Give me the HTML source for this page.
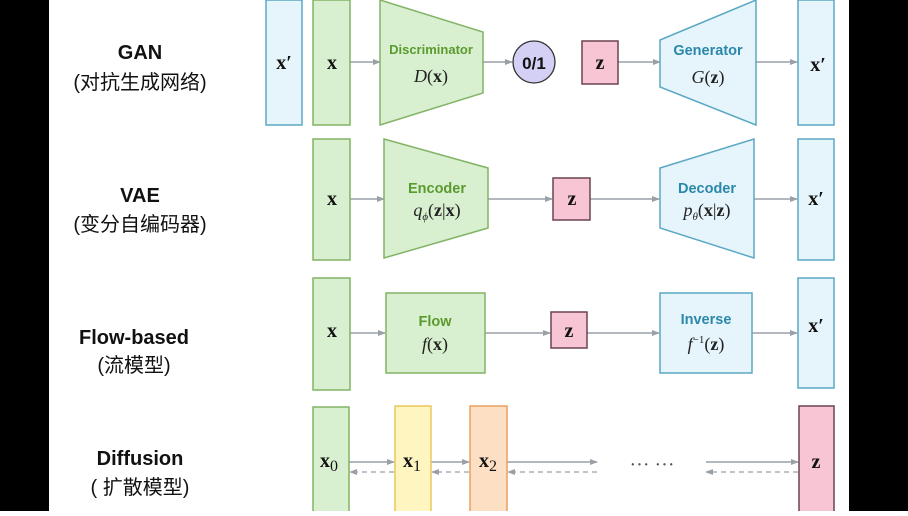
<!DOCTYPE html>
<html><head><meta charset="utf-8"><style>
body{margin:0;width:908px;height:511px;overflow:hidden;background:#fff}
</style></head><body>
<svg width="908" height="511" viewBox="0 0 908 511" xmlns="http://www.w3.org/2000/svg" font-family="Liberation Serif, serif">
<defs>
<marker id="a" markerWidth="8" markerHeight="8" refX="7" refY="4" orient="auto" markerUnits="userSpaceOnUse"><path d="M0,1 L8,4 L0,7z" fill="#9aa0a8"/></marker>
</defs>
<rect x="0" y="0" width="49" height="511" fill="#000"/>
<rect x="849" y="0" width="59" height="511" fill="#000"/>
<g font-family="Liberation Sans, Noto Sans CJK SC, sans-serif" font-size="20" text-anchor="middle" fill="#111">
<text x="140" y="59" font-weight="bold">GAN</text>
<text x="140" y="89">(对抗生成网络)</text>
<text x="140" y="202" font-weight="bold">VAE</text>
<text x="140" y="231">(变分自编码器)</text>
<text x="134" y="344" font-weight="bold">Flow-based</text>
<text x="134" y="372">(流模型)</text>
<text x="140" y="465" font-weight="bold">Diffusion</text>
<text x="140" y="494">( 扩散模型)</text>
</g>
<g stroke="#9aa0a8" stroke-width="1.5" fill="none" marker-end="url(#a)">
<line x1="350" y1="62" x2="380" y2="62"/>
<line x1="483" y1="62" x2="512" y2="62"/>
<line x1="618" y1="62" x2="660" y2="62"/>
<line x1="756" y1="62" x2="797" y2="62"/>
<line x1="350" y1="199" x2="384" y2="199"/>
<line x1="488" y1="199" x2="552" y2="199"/>
<line x1="590" y1="199" x2="659" y2="199"/>
<line x1="754" y1="199" x2="797" y2="199"/>
<line x1="350" y1="333" x2="385" y2="333"/>
<line x1="485" y1="333" x2="550" y2="333"/>
<line x1="587" y1="333" x2="659" y2="333"/>
<line x1="752" y1="333" x2="797" y2="333"/>
<line x1="349" y1="462" x2="394" y2="462"/>
<line x1="431" y1="462" x2="469" y2="462"/>
<line x1="507" y1="462" x2="597" y2="462"/>
<line x1="706" y1="462" x2="798" y2="462"/>
</g>
<g stroke="#9aa0a8" stroke-width="1.3" fill="none" stroke-dasharray="5,4" marker-end="url(#a)">
<line x1="394" y1="472" x2="350" y2="472"/>
<line x1="469" y1="472" x2="432" y2="472"/>
<line x1="597" y1="472" x2="508" y2="472"/>
<line x1="798" y1="472" x2="706" y2="472"/>
</g>
<text x="652" y="471" font-size="20" fill="#555" text-anchor="middle">··· ···</text>
<!-- GAN -->
<rect x="266" y="0" width="36" height="125" fill="#e6f5fb" stroke="#5ba8c4" stroke-width="1.5"/>
<rect x="313" y="0" width="37" height="125" fill="#d9f0d0" stroke="#82b366" stroke-width="1.5"/>
<polygon points="380,0 483,32 483,93 380,125" fill="#d9f0d0" stroke="#82b366" stroke-width="1.5"/>
<circle cx="534" cy="62" r="21" fill="#d4d0f5" stroke="#333" stroke-width="1.3"/>
<rect x="582" y="41" width="36" height="43" fill="#f8c5d5" stroke="#6a4450" stroke-width="1.5"/>
<polygon points="660,40 756,0 756,125 660,87" fill="#e6f5fb" stroke="#5ba8c4" stroke-width="1.5"/>
<rect x="798" y="0" width="36" height="125" fill="#e6f5fb" stroke="#5ba8c4" stroke-width="1.5"/>
<!-- VAE -->
<rect x="313" y="139" width="37" height="121" fill="#d9f0d0" stroke="#82b366" stroke-width="1.5"/>
<polygon points="384,139 488,168 488,228 384,258" fill="#d9f0d0" stroke="#82b366" stroke-width="1.5"/>
<rect x="553" y="178" width="37" height="42" fill="#f8c5d5" stroke="#6a4450" stroke-width="1.5"/>
<polygon points="660,168 754,139 754,258 660,228" fill="#e6f5fb" stroke="#5ba8c4" stroke-width="1.5"/>
<rect x="798" y="139" width="36" height="121" fill="#e6f5fb" stroke="#5ba8c4" stroke-width="1.5"/>
<!-- Flow -->
<rect x="313" y="278" width="37" height="112" fill="#d9f0d0" stroke="#82b366" stroke-width="1.5"/>
<rect x="386" y="293" width="99" height="80" fill="#d9f0d0" stroke="#82b366" stroke-width="1.5"/>
<rect x="551" y="312" width="36" height="36" fill="#f8c5d5" stroke="#6a4450" stroke-width="1.5"/>
<rect x="660" y="293" width="92" height="80" fill="#e6f5fb" stroke="#5ba8c4" stroke-width="1.5"/>
<rect x="798" y="278" width="36" height="110" fill="#e6f5fb" stroke="#5ba8c4" stroke-width="1.5"/>
<!-- Diffusion -->
<rect x="313" y="407" width="36" height="110" fill="#d9f0d0" stroke="#82b366" stroke-width="1.5"/>
<rect x="395" y="406" width="36" height="110" fill="#fff5c0" stroke="#e8c85a" stroke-width="1.5"/>
<rect x="470" y="406" width="37" height="110" fill="#fde0c4" stroke="#e8a060" stroke-width="1.5"/>
<rect x="799" y="406" width="35" height="110" fill="#f8c5d5" stroke="#6a4450" stroke-width="1.5"/>
<!-- labels -->
<g font-weight="bold" font-size="20" text-anchor="middle" fill="#111">
<text x="284" y="69">x′</text>
<text x="332" y="69">x</text>
<text x="600" y="69">z</text>
<text x="818" y="71">x′</text>
<text x="332" y="205">x</text>
<text x="572" y="205">z</text>
<text x="816" y="205">x′</text>
<text x="332" y="337">x</text>
<text x="569" y="337">z</text>
<text x="816" y="332">x′</text>
<text x="329" y="467">x<tspan font-weight="normal" font-size="16" dy="4">0</tspan></text>
<text x="412" y="467">x<tspan font-weight="normal" font-size="16" dy="4">1</tspan></text>
<text x="488" y="467">x<tspan font-weight="normal" font-size="16" dy="4">2</tspan></text>
<text x="816" y="468">z</text>
</g>
<g font-family="Liberation Sans, sans-serif" font-weight="bold" text-anchor="middle">
<text x="431" y="54" font-size="13" fill="#5a9a2e">Discriminator</text>
<text x="534" y="69" font-size="17" fill="#111">0/1</text>
<text x="708" y="55" font-size="14.5" fill="#2b88aa">Generator</text>
<text x="437" y="193" font-size="14.5" fill="#5a9a2e">Encoder</text>
<text x="707" y="193" font-size="14.5" fill="#2b88aa">Decoder</text>
<text x="435" y="326" font-size="14.5" fill="#5a9a2e">Flow</text>
<text x="706" y="324" font-size="14.5" fill="#2b88aa">Inverse</text>
</g>
<g font-size="18" text-anchor="middle" fill="#222">
<text x="431" y="82"><tspan font-style="italic">D</tspan>(<tspan font-weight="bold">x</tspan>)</text>
<text x="708" y="83"><tspan font-style="italic">G</tspan>(<tspan font-weight="bold">z</tspan>)</text>
<text x="437" y="216"><tspan font-style="italic">q</tspan><tspan font-size="11" dy="4" font-style="italic">ϕ</tspan><tspan dy="-4">(</tspan><tspan font-weight="bold">z</tspan>|<tspan font-weight="bold">x</tspan>)</text>
<text x="707" y="216"><tspan font-style="italic">p</tspan><tspan font-size="11" dy="4" font-style="italic">θ</tspan><tspan dy="-4">(</tspan><tspan font-weight="bold">x</tspan>|<tspan font-weight="bold">z</tspan>)</text>
<text x="435" y="350"><tspan font-style="italic">f</tspan>(<tspan font-weight="bold">x</tspan>)</text>
<text x="706" y="350"><tspan font-style="italic">f</tspan><tspan font-size="11" dy="-7">−1</tspan><tspan dy="7">(</tspan><tspan font-weight="bold">z</tspan>)</text>
</g>
</svg>
</body></html>
